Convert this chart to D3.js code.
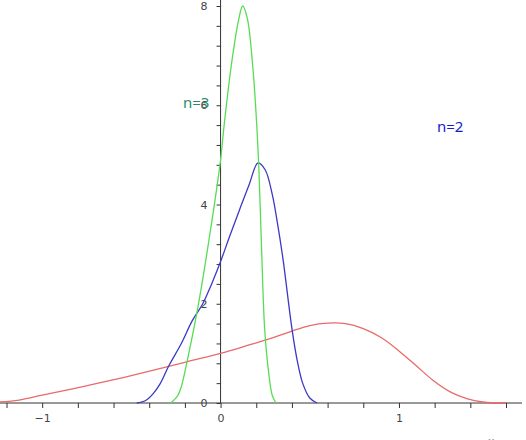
<!DOCTYPE html>
<html>
<head>
<meta charset="utf-8">
<script src="https://cdn.jsdelivr.net/npm/d3@7"></script>
<style>
  body { margin: 0; background: #fff; }
  .axis text { font-family: "DejaVu Sans", sans-serif; font-size: 11px; fill: #444; }
  .axis line { stroke: #333; }
</style>
</head>
<body>
<div id="chart"></div>
<script>
// values (x, density)
var redPts = [[-1.24,0.02],[-1.13,0.06],[-1.0,0.16],[-0.81,0.30],[-0.61,0.46],[-0.41,0.63],[-0.19,0.83],
  [0,1.0],[0.16,1.17],[0.28,1.3],[0.40,1.45],[0.50,1.56],[0.60,1.61],[0.70,1.6],[0.80,1.5],[0.90,1.32],
  [1.0,1.05],[1.1,0.74],[1.19,0.46],[1.29,0.22],[1.38,0.09],[1.47,0.02],[1.6,0]];
var bluePts = [[-0.47,0],[-0.42,0.05],[-0.38,0.18],[-0.34,0.38],[-0.29,0.75],[-0.22,1.2],[-0.16,1.65],
  [-0.10,2.0],[-0.05,2.4],[0,2.85],[0.05,3.35],[0.107,3.9],[0.16,4.4],[0.21,4.84],[0.25,4.7],[0.29,4.2],
  [0.32,3.6],[0.35,2.9],[0.40,1.5],[0.43,0.85],[0.46,0.4],[0.50,0.1],[0.54,0]];
var greenPts = [[-0.28,0],[-0.24,0.15],[-0.22,0.33],[-0.19,0.8],[-0.13,1.87],[-0.06,3.4],[0,4.9],
  [0.02,5.6],[0.06,6.8],[0.10,7.7],[0.124,8.0],[0.15,7.75],[0.18,6.8],[0.20,5.77],[0.215,4.7],
  [0.23,3.1],[0.247,1.5],[0.27,0.6],[0.29,0.15],[0.31,0]];
var xTicks = d3.range(-6, 9).map(i => i * 0.2);
var yTicks = d3.range(0, 21).map(i => i * 0.4);

var width = 526, height = 440;
var svg = d3.select('#chart').append('svg')
  .attr('width', width)
  .attr('height', height);

var x = d3.scaleLinear().domain([-1.2, 1.6]).range([6.5, 506]);
var y = d3.scaleLinear().domain([0, 8]).range([403, 6]);

// x axis
var xAxis = d3.axisBottom(x)
  .tickValues(xTicks)
  .tickSize(5)
  .tickPadding(6)
  .tickFormat(d => Math.abs(d - Math.round(d)) < 1e-6 ? d3.format('d')(Math.round(d)) : '');
var gx = svg.append('g').attr('class', 'axis')
  .attr('transform', `translate(0,${y(0)})`)
  .call(xAxis);
gx.select('.domain').remove();
svg.append('line')
  .attr('x1', 0).attr('x2', 522)
  .attr('y1', y(0)).attr('y2', y(0))
  .attr('stroke', '#333');

// y axis
var yAxis = d3.axisLeft(y)
  .tickValues(yTicks)
  .tickSize(4)
  .tickPadding(9)
  .tickFormat(d => Math.abs(d / 2 - Math.round(d / 2)) < 1e-6 ? d3.format('d')(Math.round(d)) : '');
var gy = svg.append('g').attr('class', 'axis')
  .attr('transform', `translate(${x(0)},0)`)
  .call(yAxis);
gy.select('.domain').remove();
svg.append('line')
  .attr('x1', x(0)).attr('x2', x(0))
  .attr('y1', 0).attr('y2', y(0))
  .attr('stroke', '#333');

svg.append('text')
  .attr('x', 488).attr('y', 445)
  .attr('font-family', 'DejaVu Sans, sans-serif')
  .attr('font-size', 11).attr('fill', '#888')
  .text('x');

var line = d3.line()
  .x(d => x(d[0]))
  .y(d => y(d[1]))
  .curve(d3.curveCatmullRom.alpha(0.5));

var series = [
  {pts: redPts, color: '#e86a6a'},
  {pts: bluePts, color: '#3a3ac4'},
  {pts: greenPts, color: '#55dd55'}
];
svg.selectAll('.curve')
  .data(series)
  .enter()
  .append('path')
  .attr('class', 'curve')
  .attr('d', d => line(d.pts))
  .attr('fill', 'none')
  .attr('stroke', d => d.color)
  .attr('stroke-width', 1.3);

svg.append('text')
  .attr('x', 183).attr('y', 108)
  .attr('font-family', 'Noto Sans, sans-serif')
  .attr('font-size', 15).attr('fill', '#2a8a70')
  .text('n=3');
svg.append('text')
  .attr('x', 437).attr('y', 132)
  .attr('font-family', 'Noto Sans, sans-serif')
  .attr('font-size', 15).attr('fill', '#1a1ad0')
  .text('n=2');
</script>
</body>
</html>
